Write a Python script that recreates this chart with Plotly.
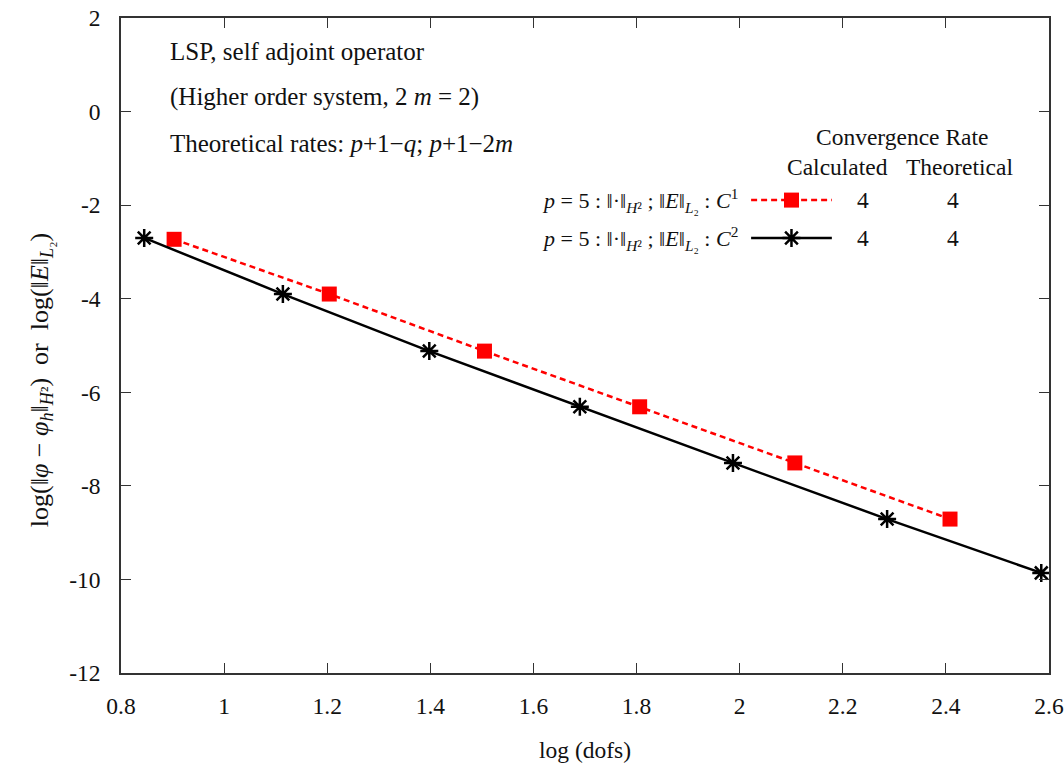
import plotly.graph_objects as go

# Convergence data: log10(degrees of freedom) vs log10(error)
c1_logdofs = [0.903, 1.204, 1.505, 1.806, 2.107, 2.408]
c1_logerr = [-2.73, -3.90, -5.12, -6.31, -7.51, -8.71]
c2_logdofs = [0.845, 1.114, 1.398, 1.690, 1.987, 2.286, 2.585]
c2_logerr = [-2.70, -3.90, -5.12, -6.31, -7.51, -8.71, -9.86]

x_ticks = [0.8, 1, 1.2, 1.4, 1.6, 1.8, 2, 2.2, 2.4, 2.6]
x_ticklabels = ["0.8", "1", "1.2", "1.4", "1.6", "1.8", "2", "2.2", "2.4", "2.6"]
y_ticks = [2, 0, -2, -4, -6, -8, -10, -12]
y_ticklabels = ["2", "0", "-2", "-4", "-6", "-8", "-10", "-12"]

c1_label = "<i>p</i> = 5 : ‖·‖<sub><i>H</i>²</sub> ; ‖<i>E</i>‖<sub><i>L</i>₂</sub> : <i>C</i><sup>1</sup>"
c2_label = "<i>p</i> = 5 : ‖·‖<sub><i>H</i>²</sub> ; ‖<i>E</i>‖<sub><i>L</i>₂</sub> : <i>C</i><sup>2</sup>"
calc_rates = ["4", "4"]
theo_rates = ["4", "4"]

FONT = "Liberation Serif, Times New Roman, serif"
TXT = "#111111"
RED = "#ff0000"
BLACK = "#000000"
FS = 23.5

red_line = dict(color=RED, width=2.5, dash="6px,4px")
red_marker = dict(symbol="square", size=15, color=RED)
black_line = dict(color=BLACK, width=2.5)
black_marker = dict(symbol="asterisk-open", size=15, color=BLACK,
                    line=dict(color=BLACK, width=2.5))

fig = go.Figure()

fig.add_trace(go.Scatter(x=c1_logdofs, y=c1_logerr, mode="lines+markers",
                         line=red_line, marker=red_marker, showlegend=False))
fig.add_trace(go.Scatter(x=c2_logdofs, y=c2_logerr, mode="lines+markers",
                         line=black_line, marker=black_marker, showlegend=False))

# Legend keys drawn on an overlay axis spanning the plot area in [0, 1]
key_x = [0.679, 0.766]
row_y = [0.722, 0.664]
fig.add_trace(go.Scatter(x=key_x, y=[row_y[0]] * 2, mode="lines", line=red_line,
                         xaxis="x2", yaxis="y2", showlegend=False, hoverinfo="skip"))
fig.add_trace(go.Scatter(x=[sum(key_x) / 2], y=[row_y[0]], mode="markers", marker=red_marker,
                         xaxis="x2", yaxis="y2", showlegend=False, hoverinfo="skip"))
fig.add_trace(go.Scatter(x=key_x, y=[row_y[1]] * 2, mode="lines", line=black_line,
                         xaxis="x2", yaxis="y2", showlegend=False, hoverinfo="skip"))
fig.add_trace(go.Scatter(x=[sum(key_x) / 2], y=[row_y[1]], mode="markers", marker=black_marker,
                         xaxis="x2", yaxis="y2", showlegend=False, hoverinfo="skip"))

axis_common = dict(
    showline=True, linecolor="#333333", linewidth=1.5, mirror="ticks",
    ticks="inside", ticklen=10, tickwidth=1.2, tickcolor="#333333",
    showgrid=False, zeroline=False, automargin=False,
    tickfont=dict(family=FONT, size=FS, color=TXT),
)

fig.update_layout(
    width=1064, height=768,
    margin=dict(l=121, r=15, t=18, b=95),
    paper_bgcolor="white", plot_bgcolor="white",
    font=dict(family=FONT, size=FS, color=TXT),
    xaxis=dict(range=[0.8, 2.6], tickvals=x_ticks, ticktext=x_ticklabels,
               ticklabelstandoff=11,
               title=dict(text="log (dofs)", font=dict(family=FONT, size=FS), standoff=24),
               **axis_common),
    yaxis=dict(range=[-12, 2], tickvals=y_ticks, ticktext=y_ticklabels,
               ticklabelstandoff=14, **axis_common),
    xaxis2=dict(range=[0, 1], overlaying="x", visible=False, fixedrange=True),
    yaxis2=dict(range=[0, 1], overlaying="y", visible=False, fixedrange=True),
)

ann = []

def text(x, y, s, xanchor="left", size=FS):
    ann.append(dict(x=x, y=y, xref="paper", yref="paper", text=s, showarrow=False,
                    xanchor=xanchor, yanchor="middle",
                    font=dict(family=FONT, size=size, color=TXT)))

rates = "<i>p</i>+1−<i>q</i>; <i>p</i>+1−2<i>m</i>"
text(0.0506, 0.949, "LSP, self adjoint operator", size=25)
text(0.0506, 0.880, "(Higher order system, 2 <i>m</i> = 2)", size=25)
text(0.0506, 0.808, "Theoretical rates: " + rates, size=25)

text(0.8416, 0.818, "Convergence Rate", "center")
text(0.7726, 0.7725, "Calculated", "center")
text(0.904, 0.7725, "Theoretical", "center")

for label, calc, theo, y in zip([c1_label, c2_label], calc_rates, theo_rates, row_y):
    text(0.667, y, label, "right", size=22)
    text(0.80, y, calc, "center")
    text(0.8966, y, theo, "center")

# Rotated y-axis title
ann.append(dict(x=-0.0862, y=0.447, xref="paper", yref="paper", textangle=-90,
                text="log(‖<i>φ</i> − <i>φ</i><sub><i>h</i></sub>‖<sub><i>H</i>²</sub>)  or  log(‖<i>E</i>‖<sub><i>L</i>₂</sub>)",
                showarrow=False, xanchor="center", yanchor="middle",
                font=dict(family=FONT, size=26, color=TXT)))

fig.update_layout(annotations=ann)

fig.write_html("out.html")
